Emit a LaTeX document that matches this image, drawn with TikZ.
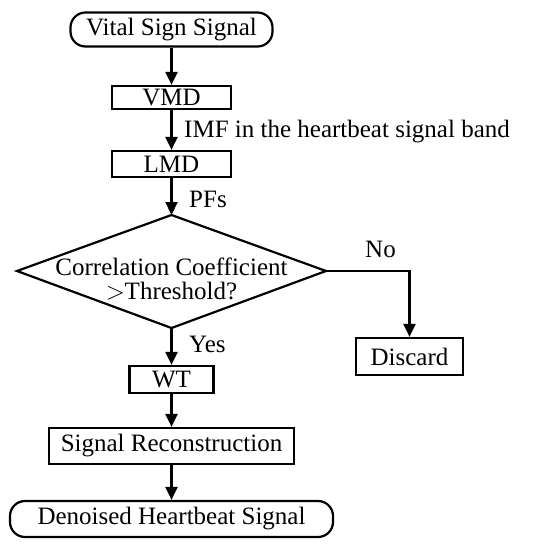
\documentclass[tikz,border=0pt]{standalone}
\usepackage{fontspec}
\setmainfont{Liberation Serif}
\usetikzlibrary{arrows.meta}
\begin{document}
\begin{tikzpicture}[x=1pt,y=-1pt,
  every node/.style={font=\fontsize{25}{22}\selectfont, inner sep=0pt},
  box/.style={draw, line width=2.2pt, minimum width=#1},
  term/.style={draw, line width=2.2pt, rounded corners=15pt, minimum width=#1, minimum height=34pt},
  lbl/.style={anchor=base west},
  arr/.style={line width=2.2pt, -{Triangle[length=13pt,width=12pt]}}]
\useasboundingbox (0,0) rectangle (550,552);
\node[term=202] (start) at (171.5,29.5) {Vital Sign Signal};
\node[box=119, minimum height=23pt] (vmd) at (171.5,97.5) {VMD};
\node[box=119, minimum height=26pt] (lmd) at (171.5,164) {LMD};
\coordinate (dt) at (171.5,215);
\coordinate (dl) at (17,271);
\coordinate (dr) at (326,271);
\coordinate (db) at (171.5,328);
\draw[line width=2.2pt, line join=miter] (dt) -- (dr) -- (db) -- (dl) -- cycle;
\node[align=center, font=\fontsize{25}{24}\selectfont] (dec) at (171.5,279) {Correlation Coefficient\\$>$Threshold?};
\node[box=107, minimum height=37pt] (disc) at (409.5,356.5) {Discard};
\node[box=84, minimum height=27pt] (wt) at (171.5,379.5) {WT};
\node[box=245, minimum height=36pt] (rec) at (171.5,446) {Signal Reconstruction};
\node[term=323, minimum height=36pt] (end) at (171.5,519) {Denoised Heartbeat Signal};
\draw[arr] (start) -- (vmd);
\draw[arr] (vmd) -- (lmd);
\draw[arr] (lmd) -- (dt);
\draw[arr] (db) -- (wt);
\draw[arr] (wt) -- (rec);
\draw[arr] (rec) -- (end);
\draw[arr] (dr) -| (disc);
\node[lbl] (imf) at (184,137) {IMF in the heartbeat signal band};
\node[lbl] (pfs) at (189,207) {PFs};
\node[lbl] (no) at (365,257) {No};
\node[lbl] (yes) at (189,352) {Yes};
\end{tikzpicture}
\end{document}
